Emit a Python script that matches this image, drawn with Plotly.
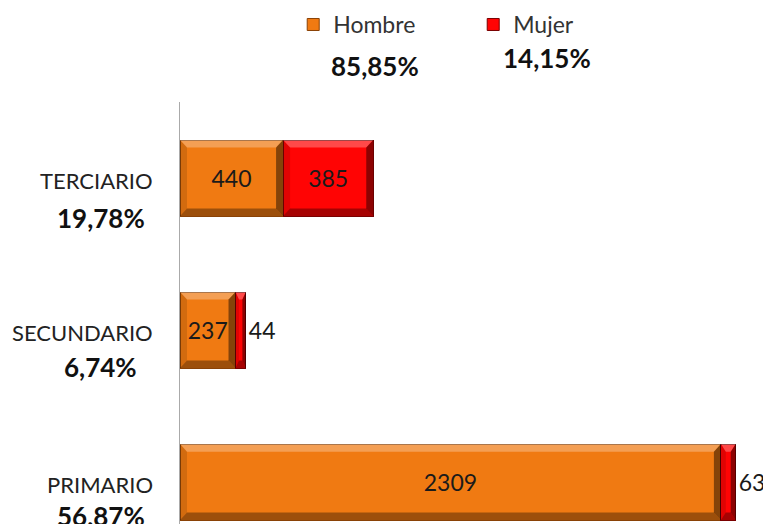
import plotly.graph_objects as go

# Data
niveles = ["PRIMARIO", "SECUNDARIO", "TERCIARIO"]
hombre = [2309, 237, 440]
mujer = [63, 44, 385]
pct_nivel = ["56,87%", "6,74%", "19,78%"]
pct_sexo = ["85,85%", "14,15%"]

FONT = "Lato"
ORANGE = "#F07A12"
RED = "#FF0404"
BAR_W = 0.5
X_MAX = 2557

pos = list(range(len(niveles)))

fig = go.Figure()

fig.add_trace(go.Bar(
    y=pos, x=hombre, orientation="h", name="Hombre", width=BAR_W,
    marker=dict(color=ORANGE, line=dict(color="#8A4206", width=1)),
    text=[str(v) for v in hombre], textposition="inside",
    insidetextanchor="middle", textangle=0,
    textfont=dict(family=FONT, size=23, color="#1a1a1a"),
))
fig.add_trace(go.Bar(
    y=pos, x=mujer, orientation="h", name="Mujer", width=BAR_W,
    marker=dict(color=RED, line=dict(color="#7A0000", width=1)),
    text=[str(v) for v in mujer],
    textposition=["outside", "outside", "inside"],
    insidetextanchor="middle", textangle=0,
    textfont=dict(family=FONT, size=23, color="#1a1a1a"),
    cliponaxis=False,
))

# bevel look: light top edge, dark bottom / right edges
px_per_unit_x = 599 / X_MAX
dx_px, dy = 7, 0.05


def bevel(x0, x1, yc):
    w = x1 - x0
    dx = min(dx_px / px_per_unit_x, w / 3)
    yt, yb = yc + BAR_W / 2, yc - BAR_W / 2
    out = []
    bands = [
        ([(x0, yt), (x1, yt), (x1 - dx, yt - dy), (x0 + dx, yt - dy)], "rgba(255,255,255,0.28)"),
        ([(x0, yb), (x1, yb), (x1 - dx, yb + dy), (x0 + dx, yb + dy)], "rgba(0,0,0,0.35)"),
        ([(x1, yt), (x1, yb), (x1 - dx, yb + dy), (x1 - dx, yt - dy)], "rgba(0,0,0,0.45)"),
        ([(x0, yt), (x0, yb), (x0 + dx, yb + dy), (x0 + dx, yt - dy)], "rgba(0,0,0,0.12)"),
    ]
    for pts, col in bands:
        path = "M " + " L ".join(f"{a},{b}" for a, b in pts) + " Z"
        out.append(dict(type="path", path=path, xref="x", yref="y",
                        fillcolor=col, line=dict(width=0), layer="above"))
    return out


shapes = []
for i in pos:
    shapes += bevel(0, hombre[i], i)
    shapes += bevel(hombre[i], hombre[i] + mujer[i], i)

# category labels with their share underneath
shifts = [-34, -37, -40]
for i, cat in enumerate(niveles):
    fig.add_annotation(x=-0.0417, xref="paper", y=i, yref="y", yshift=-2,
                       text=cat, showarrow=False, xanchor="right", yanchor="middle",
                       font=dict(family=FONT, size=22, color="#222"))
    fig.add_annotation(x=-0.132, xref="paper", y=i, yref="y", yshift=shifts[i],
                       text="<b>" + pct_nivel[i] + "</b>", showarrow=False,
                       xanchor="center", yanchor="middle",
                       font=dict(family=FONT, size=26, color="#111"))

# shares under legend entries
fig.add_annotation(x=0.3255, xref="paper", y=1.085, yref="paper", text="<b>" + pct_sexo[0] + "</b>",
                   showarrow=False, xanchor="center", yanchor="middle",
                   font=dict(family=FONT, size=26, color="#111"))
fig.add_annotation(x=0.613, xref="paper", y=1.104, yref="paper", text="<b>" + pct_sexo[1] + "</b>",
                   showarrow=False, xanchor="center", yanchor="middle",
                   font=dict(family=FONT, size=26, color="#111"))

fig.update_layout(
    width=771, height=524,
    barmode="stack",
    shapes=shapes,
    plot_bgcolor="white", paper_bgcolor="white",
    margin=dict(l=172, r=0, t=94, b=8, autoexpand=False),
    showlegend=True,
    legend=dict(orientation="h", x=0.189, xanchor="left", y=1.2345, yref="paper",
                yanchor="top", entrywidth=135, entrywidthmode="pixels",
                font=dict(family=FONT, size=23, color="#333"), traceorder="normal"),
    xaxis=dict(range=[0, X_MAX], visible=False, fixedrange=True, automargin=False),
    yaxis=dict(range=[-0.276, 2.5], showticklabels=False, ticks="", automargin=False,
               showline=True, linecolor="#aaa", linewidth=1, showgrid=False, zeroline=False),
    uniformtext=dict(minsize=10, mode="show"),
)

fig.write_html("out.html")
